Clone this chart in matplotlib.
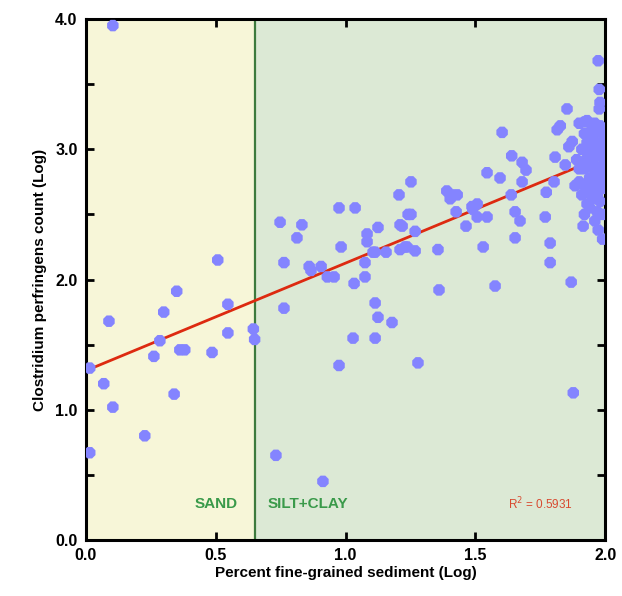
import matplotlib.pyplot as plt
from matplotlib.ticker import MultipleLocator

# Percent fine-grained sediment (log) vs Clostridium perfringens count (log)
sand_x = [0.104, 0.015, 0.015, 0.089, 0.069, 0.104, 0.227, 0.262, 0.285, 0.300,
          0.350, 0.340, 0.362, 0.381, 0.486, 0.508, 0.547, 0.547, 0.645, 0.650]
sand_y = [3.95, 1.32, 0.67, 1.68, 1.20, 1.02, 0.80, 1.41, 1.53, 1.75,
          1.91, 1.12, 1.46, 1.46, 1.44, 2.15, 1.81, 1.59, 1.62, 1.54]

silt_x = [0.748, 0.832, 0.813, 0.763, 0.860, 0.867, 0.906, 0.930, 0.956, 0.975,
          1.037, 0.983, 1.033, 1.075, 1.075, 1.083, 1.083, 1.106, 1.114, 1.125,
          1.156, 1.206, 1.210, 1.210, 1.237, 1.241, 0.763, 1.114, 1.125, 1.179,
          1.029, 1.114, 0.975, 0.732, 0.913, 1.279, 1.603, 1.640, 1.680, 1.695,
          1.545, 1.595, 1.680, 1.252, 1.390, 1.410, 1.430, 1.403, 1.426, 1.487,
          1.507, 1.490, 1.507, 1.545, 1.464, 1.638, 1.653, 1.672, 1.653, 1.530,
          1.252, 1.218, 1.268, 1.229, 1.268, 1.356, 1.360, 1.576, 1.773, 1.803,
          1.815, 1.807, 1.769, 1.788, 1.788, 1.827, 1.853, 1.846, 1.869, 1.877]
silt_y = [2.44, 2.42, 2.32, 2.13, 2.10, 2.07, 2.10, 2.02, 2.02, 2.55,
          2.55, 2.25, 1.97, 2.02, 2.13, 2.35, 2.29, 2.21, 2.21, 2.40,
          2.21, 2.65, 2.42, 2.23, 2.25, 2.50, 1.78, 1.82, 1.71, 1.67,
          1.55, 1.55, 1.34, 0.65, 0.45, 1.36, 3.13, 2.95, 2.90, 2.84,
          2.82, 2.78, 2.75, 2.75, 2.68, 2.65, 2.65, 2.62, 2.52, 2.56,
          2.58, 2.54, 2.48, 2.48, 2.41, 2.65, 2.52, 2.45, 2.32, 2.25,
          2.50, 2.41, 2.37, 2.25, 2.22, 2.23, 1.92, 1.95, 2.67, 2.75,
          3.15, 2.94, 2.48, 2.28, 2.13, 3.18, 3.31, 2.88, 1.98, 1.13]

# dense group of samples near 100% fines
cluster_x = [1.973, 1.977, 1.980, 1.977, 1.915, 1.973, 1.990, 1.990, 1.884, 1.873,
             1.860, 1.920, 1.90, 1.93, 1.96, 1.98, 1.99, 1.92, 1.95, 1.97,
             2.00, 1.94, 1.91, 1.96, 1.99, 1.93, 1.89, 1.95, 1.98, 1.92,
             1.97, 1.94, 2.00, 1.90, 1.96, 1.99, 1.93, 1.91, 1.95, 1.98,
             1.94, 1.97, 1.92, 1.96, 1.95, 1.97, 1.98, 1.99, 2.00, 1.96,
             1.92, 1.90, 1.94, 1.96, 1.93, 1.98, 1.95, 1.91, 1.97, 1.99,
             1.93, 1.95]
cluster_y = [3.68, 3.46, 3.36, 3.31, 2.41, 2.38, 2.31, 2.50, 2.72, 3.06,
             3.02, 3.21, 3.20, 3.22, 3.20, 3.18, 3.12, 3.12, 3.10, 3.05,
             3.05, 3.02, 3.00, 2.98, 2.95, 2.93, 2.92, 2.88, 2.86, 2.85,
             2.80, 2.78, 2.78, 2.75, 2.72, 2.70, 2.68, 2.65, 2.62, 2.60,
             2.55, 2.52, 2.50, 2.45, 2.92, 2.95, 3.00, 2.88, 2.92, 3.14,
             2.72, 2.85, 2.96, 2.84, 3.05, 2.76, 2.68, 2.90, 2.64, 2.82,
             2.58, 3.16]

fit_x = [0.0, 1.95]
fit_intercept = 1.30
fit_slope = 0.826
r_squared = 0.5931
sand_limit = 0.65

x_ticks = [0.0, 0.5, 1.0, 1.5, 2.0]
y_ticks = [0.0, 1.0, 2.0, 3.0, 4.0]

plt.rcParams["font.family"] = ["Liberation Sans Narrow", "Liberation Sans", "DejaVu Sans"]

fig = plt.figure(figsize=(6.22, 5.96), dpi=100)
ax = fig.add_axes([0.138, 0.094, 0.835, 0.874])

ax.axvspan(0.0, sand_limit, color="#f7f6d8", zorder=0)
ax.axvspan(sand_limit, 2.0, color="#dce9d5", zorder=0)
ax.axvline(sand_limit, color="#3d7a3d", linewidth=1.6, zorder=1)

xs = sand_x + silt_x + cluster_x
ys = sand_y + silt_y + cluster_y

fit_y = [fit_intercept + fit_slope * v for v in fit_x]
ax.plot(fit_x, fit_y, color="#dd2a10", linewidth=2, zorder=2)
ax.scatter(xs, ys, s=80, marker="8", color="#8484ff", edgecolors="none", zorder=3)

ax.text(0.5, 0.28, "SAND", color="#3a9a4a", fontsize=11, fontweight="bold",
        ha="center", va="center")
ax.text(0.70, 0.28, "SILT+CLAY", color="#3a9a4a", fontsize=11, fontweight="bold",
        ha="left", va="center")
ax.text(1.75, 0.28, f"R$^2$ = {r_squared}", color="#d84a30", fontsize=8.5,
        ha="center", va="center")

ax.set_xlim(0, 2.0)
ax.set_ylim(0, 4.0)
ax.set_xticks(x_ticks)
ax.set_xticklabels([f"{v:.1f}" for v in x_ticks])
ax.set_yticks(y_ticks)
ax.set_yticklabels([f"{v:.1f}" for v in y_ticks])
ax.yaxis.set_minor_locator(MultipleLocator(0.5))
ax.tick_params(which="both", direction="in", top=True, right=True, width=2,
               length=6, labelsize=11.5, pad=6)
for lbl in ax.get_xticklabels() + ax.get_yticklabels():
    lbl.set_fontweight("bold")

for sp in ax.spines.values():
    sp.set_linewidth(2.2)

ax.set_xlabel("Percent fine-grained sediment (Log)", fontsize=11, fontweight="bold",
              labelpad=2)
ax.set_ylabel("Clostridium perfringens count (Log)", fontsize=11, fontweight="bold",
              labelpad=6)

fig.savefig("out.png", dpi=100)
